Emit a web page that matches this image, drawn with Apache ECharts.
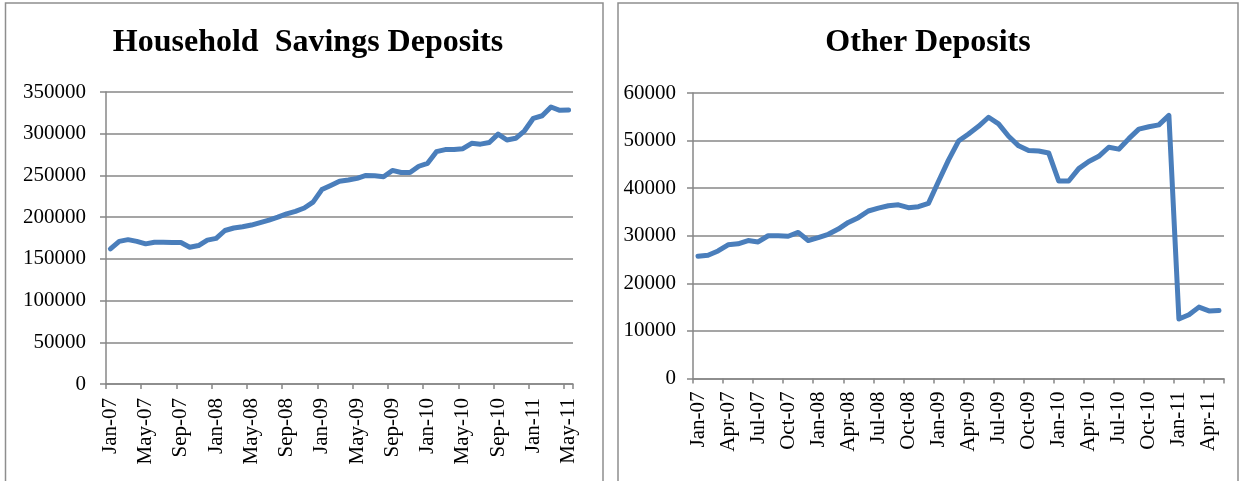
<!DOCTYPE html>
<html>
<head>
<meta charset="utf-8">
<script src="https://cdn.jsdelivr.net/npm/echarts@6/dist/echarts.min.js"></script>
<style>
  html, body { margin: 0; padding: 0; background: #fff; }
  #chart { width: 1239px; height: 481px; }
</style>
</head>
<body>
<div id="chart"></div>
<script>
// month labels, Jan-07 .. May-11
const months = [
  'Jan-07', 'Feb-07', 'Mar-07', 'Apr-07', 'May-07', 'Jun-07', 'Jul-07', 'Aug-07', 'Sep-07', 'Oct-07', 'Nov-07', 'Dec-07',
  'Jan-08', 'Feb-08', 'Mar-08', 'Apr-08', 'May-08', 'Jun-08', 'Jul-08', 'Aug-08', 'Sep-08', 'Oct-08', 'Nov-08', 'Dec-08',
  'Jan-09', 'Feb-09', 'Mar-09', 'Apr-09', 'May-09', 'Jun-09', 'Jul-09', 'Aug-09', 'Sep-09', 'Oct-09', 'Nov-09', 'Dec-09',
  'Jan-10', 'Feb-10', 'Mar-10', 'Apr-10', 'May-10', 'Jun-10', 'Jul-10', 'Aug-10', 'Sep-10', 'Oct-10', 'Nov-10', 'Dec-10',
  'Jan-11', 'Feb-11', 'Mar-11', 'Apr-11', 'May-11'
];

const householdSavings = [
  162000, 171000, 173000, 171000, 168000, 170000, 170000, 169500, 169500, 164000, 166000, 172500,
  174500, 184000, 187000, 188500, 190500, 193500, 196500, 200000, 204000, 207000, 211000, 218000,
  233000, 238000, 243000, 244500, 246500, 250000, 249500, 248500, 256000, 253500, 253500, 261000,
  264500, 278500, 281000, 281000, 282000, 288500, 287500, 289500, 299500, 292500, 294500, 303500,
  318500, 321500, 332000, 328000, 328500
];

const otherDeposits = [
  25700, 25900, 26800, 28100, 28300, 29000, 28700, 30000, 30000, 29900, 30700, 29000,
  29600, 30300, 31400, 32800, 33800, 35200, 35800, 36300, 36500, 35900, 36100, 36800,
  41400, 45900, 49900, 51400, 53000, 54900, 53500, 50900, 48900, 47900, 47800, 47400,
  41500, 41500, 44100, 45600, 46700, 48600, 48200, 50400, 52400, 52900, 53300, 55300,
  12500, 13400, 15000, 14200, 14300
];

const titles = ['Household  Savings Deposits', 'Other Deposits'];

const chart = echarts.init(document.getElementById('chart'));

const serif = "'Times New Roman', 'Liberation Serif', serif";
const axisGray = '#878787';
const lineStyle = { lineStyle: { color: axisGray, width: 1.5 } };

function xAxisFor(gridIndex, step, margin) {
  return {
    type: 'category',
    gridIndex: gridIndex,
    data: months,
    boundaryGap: true,
    axisLine: lineStyle,
    axisTick: { show: true, interval: step - 1, length: 5, lineStyle: { color: axisGray, width: 1.5 } },
    axisLabel: {
      interval: step - 1,
      rotate: 90,
      margin: margin,
      color: '#000',
      fontFamily: serif,
      fontSize: 21
    },
    splitLine: { show: false }
  };
}

function yAxisFor(gridIndex, max, interval, margin) {
  return {
    type: 'value',
    gridIndex: gridIndex,
    min: 0,
    max: max,
    interval: interval,
    axisLine: { show: true, lineStyle: { color: axisGray, width: 1.5 } },
    axisTick: { show: true, length: 6, lineStyle: { color: axisGray, width: 1.5 } },
    axisLabel: {
      margin: margin,
      color: '#000',
      fontFamily: serif,
      fontSize: 21,
      formatter: v => String(v)
    },
    splitLine: { lineStyle: { color: axisGray, width: 1.5 } }
  };
}

const seriesLine = { color: '#4a7ebb', width: 5, cap: 'round', join: 'round' };

const titleStyle = { fontFamily: serif, fontWeight: 'bold', fontSize: 32, color: '#000' };

const option = {
  animation: false,
  title: [
    { text: titles[0], left: 308, top: 27, textAlign: 'center', padding: 0, textStyle: titleStyle },
    { text: titles[1], left: 928, top: 27, textAlign: 'center', padding: 0, textStyle: titleStyle }
  ],
  grid: [
    { left: 106, top: 92, width: 467, height: 292 },
    { left: 693, top: 93, width: 531, height: 285.5 }
  ],
  xAxis: [xAxisFor(0, 4, 14), xAxisFor(1, 3, 13)],
  yAxis: [yAxisFor(0, 350000, 50000, 20), yAxisFor(1, 60000, 10000, 17)],
  series: [
    { type: 'line', xAxisIndex: 0, yAxisIndex: 0, data: householdSavings, symbol: 'none', lineStyle: seriesLine },
    { type: 'line', xAxisIndex: 1, yAxisIndex: 1, data: otherDeposits, symbol: 'none', lineStyle: seriesLine }
  ],
  // outer frames of the two chart boxes
  graphic: [
    { type: 'rect', shape: { x: 5.5, y: 3, width: 597.5, height: 500 },
      style: { fill: null, stroke: '#8e8e8e', lineWidth: 1.5 } },
    { type: 'rect', shape: { x: 618, y: 3, width: 620, height: 500 },
      style: { fill: null, stroke: '#8e8e8e', lineWidth: 1.5 } }
  ]
};

chart.setOption(option);
</script>
</body>
</html>
